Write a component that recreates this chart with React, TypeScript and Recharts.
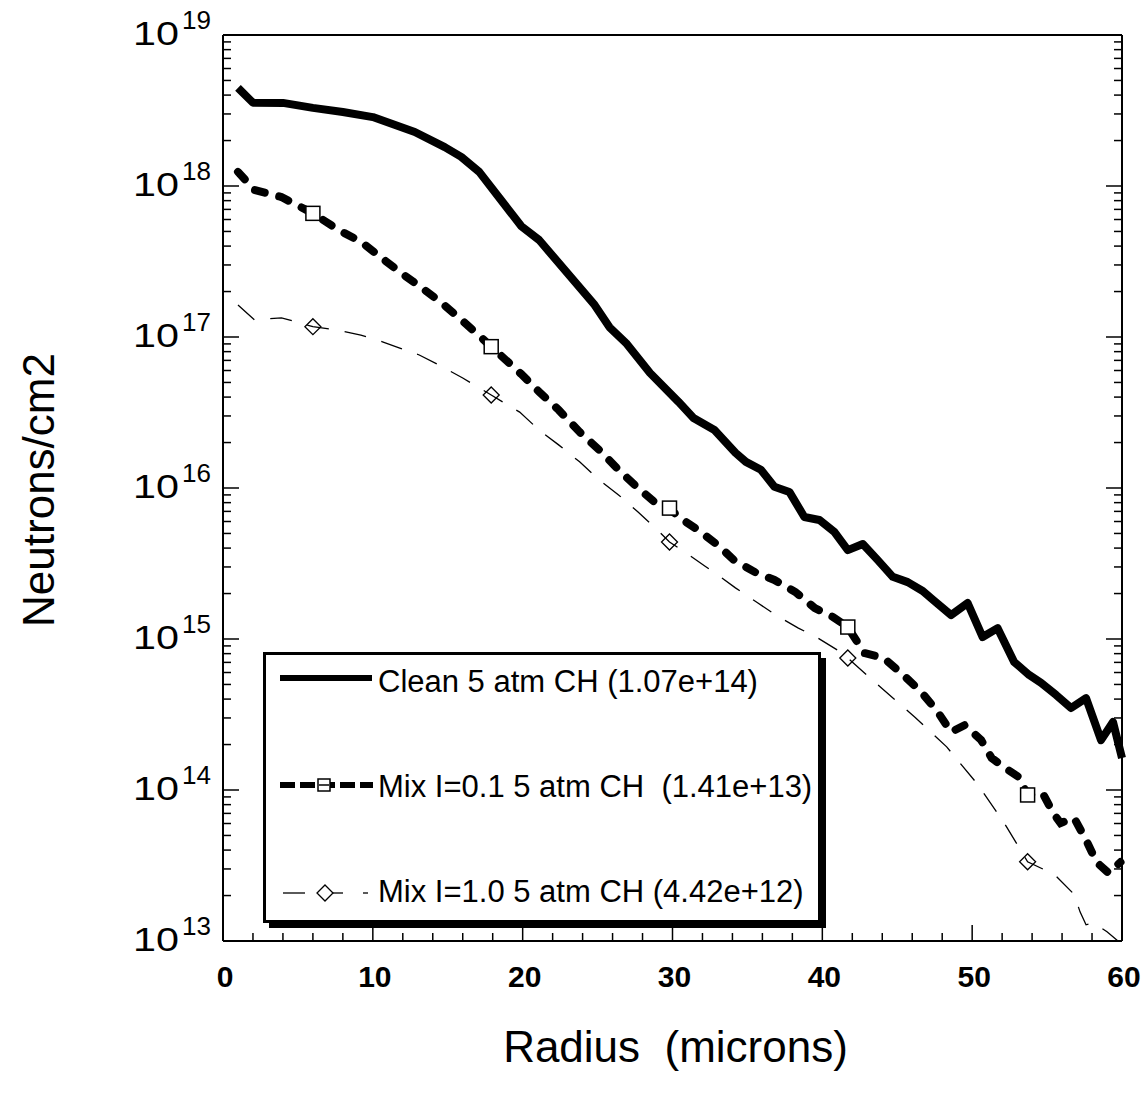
import { LineChart, Line, XAxis, YAxis, Legend, Label } from 'recharts'

// Clean 5 atm CH (1.07e+14)
const radiusClean = [
  1, 2, 4, 6, 8, 10, 12.8, 14.8, 15.9, 17.1, 18.4, 19.9, 21.1, 24.8, 25.8, 26.9, 28.5,
  30.4, 31.4, 32.8, 34.2, 34.9, 35.9, 36.8, 37.8, 38.8, 39.8, 40.8, 41.7, 42.7, 43.7,
  44.7, 45.7, 46.7, 47.4, 48.6, 49.7, 50.7, 51.7, 52.8, 53.8, 54.6, 55.6, 56.6, 57.6,
  58.6, 59.4, 60,
]
const fluxClean = [
  4.46e18, 3.56e18, 3.55e18, 3.29e18, 3.09e18, 2.86e18, 2.28e18, 1.81e18, 1.56e18, 1.24e18,
  8.45e17, 5.43e17, 4.39e17, 1.63e17, 1.16e17, 9.12e16, 5.78e16, 3.72e16, 2.91e16, 2.42e16,
  1.71e16, 1.49e16, 1.32e16, 1.02e16, 9.42e15, 6.43e15, 6.14e15, 5.12e15, 3.88e15, 4.26e15,
  3.33e15, 2.58e15, 2.38e15, 2.08e15, 1.81e15, 1.44e15, 1.73e15, 1.03e15, 1.18e15, 7.05e14,
  5.78e14, 5.12e14, 4.26e14, 3.49e14, 4.06e14, 2.14e14, 2.82e14, 1.63e14,
]

// Mix l=0.1 5 atm CH (1.41e+13)
const radiusMix01 = [
  1, 2.1, 3.9, 6, 7.7, 9.2, 10.6, 11.9, 13.2, 14.6, 15.9, 17.2, 17.9, 19.9, 21.1, 22.4,
  23.8, 25.1, 26.4, 27.6, 28.8, 29.8, 30.4, 31.7, 33.1, 34.1, 35.6, 36.8, 38.2, 39.5,
  40.7, 41.7, 42.8, 44.1, 45.4, 46.6, 47.7, 48.6, 49.5, 50.6, 51.3, 52.1, 53.1, 53.7,
  54.7, 55.4, 55.9, 56.8, 57.6, 58.3, 59.1, 59.9,
]
const fluxMix01 = [
  1.24e18, 9.42e17, 8.45e17, 6.59e17, 5.12e17, 4.28e17, 3.33e17, 2.65e17, 2.14e17, 1.68e17,
  1.3e17, 1.0e17, 8.63e16, 5.69e16, 4.33e16, 3.29e16, 2.35e16, 1.79e16, 1.32e16, 1.02e16,
  8.07e15, 7.36e15, 6.43e15, 5.27e15, 4.13e15, 3.33e15, 2.74e15, 2.46e15, 2.05e15, 1.6e15,
  1.4e15, 1.2e15, 8.07e14, 7.48e14, 5.78e14, 4.46e14, 3.29e14, 2.42e14, 2.69e14, 2.14e14,
  1.63e14, 1.42e14, 1.22e14, 9.27e13, 9.55e13, 7.05e13, 6.04e13, 6.53e13, 4.67e13, 3.33e13,
  2.82e13, 3.33e13,
]

// Mix l=1.0 5 atm CH (4.42e+12)
const radiusMix10 = [
  1, 2.1, 3.9, 6, 7.7, 9.2, 10.6, 11.8, 13.1, 14.4, 16, 17.9, 19.8, 21.1, 22.4, 23.8,
  25.1, 26.4, 27.7, 29, 29.8, 31.2, 32.2, 33.2, 34.2, 35.7, 36.9, 38.4, 39.6, 41, 41.7,
  44.1, 46.2, 48.3, 50.3, 52.1, 53.7, 55.5, 56.8, 57.2, 57.6, 58.1, 59, 60,
]
const fluxMix10 = [
  1.63e17, 1.3e17, 1.34e17, 1.17e17, 1.11e17, 1.03e17, 9.33e16, 8.45e16, 7.6e16, 6.53e16,
  5.35e16, 4.13e16, 3.18e16, 2.42e16, 1.93e16, 1.49e16, 1.13e16, 9.0e15, 6.93e15, 5.27e15,
  4.39e15, 3.55e15, 3.02e15, 2.58e15, 2.18e15, 1.73e15, 1.44e15, 1.18e15, 1.03e15, 8.45e14,
  7.48e14, 4.59e14, 3.02e14, 1.93e14, 1.11e14, 6.14e13, 3.35e13, 2.75e13, 2.04e13, 1.56e13,
  1.28e13, 1.32e13, 1.15e13, 9.5e12,
]

// symbols sit on every 12th micron or so
const markerRadii = [6, 17.9, 29.8, 41.7, 53.7]

const xTickMarks = [
  0, 2, 4, 6, 8, 10, 12, 14, 16, 18, 20, 22, 24, 26, 28, 30, 32, 34, 36, 38, 40, 42, 44,
  46, 48, 50, 52, 54, 56, 58, 60,
]
const decades = [13, 14, 15, 16, 17, 18, 19]
const minorSteps = [2, 3, 4, 5, 6, 7, 8, 9]

const seriesNames = [
  'Clean 5 atm CH (1.07e+14)',
  'Mix I=0.1 5 atm CH  (1.41e+13)',
  'Mix I=1.0 5 atm CH (4.42e+12)',
]

const FONT = '"Liberation Sans", Arial, Helvetica, sans-serif'

const toRows = (radius: number[], flux: number[]) => radius.map((r, i) => ({ r, v: flux[i] }))
const cleanRows = toRows(radiusClean, fluxClean)
const mix01Rows = toRows(radiusMix01, fluxMix01)
const mix10Rows = toRows(radiusMix10, fluxMix10)

const yTicks = decades.flatMap((d) =>
  d < 19 ? [Math.pow(10, d), ...minorSteps.map((m) => m * Math.pow(10, d))] : [Math.pow(10, d)]
)
const isDecade = (v: number) => Math.abs(Math.log10(v) - Math.round(Math.log10(v))) < 1e-6
// svg collapses runs of spaces
const keepSpaces = (s: string) => s.replace(/ {2}/g, ' \u00A0')

function BottomTick({ x, y, payload }: any) {
  const v = payload.value
  const major = v % 10 === 0
  return (
    <g>
      <line x1={x} y1={y} x2={x} y2={y - (major ? 16 : 8)} stroke="#000" strokeWidth={1.5} />
      {major && (
        <text x={x + 2} y={y + 46} textAnchor="middle" fontSize={30} fontWeight="bold" fontFamily={FONT} fill="#000">
          {v}
        </text>
      )}
    </g>
  )
}

function TopTick({ x, y, payload }: any) {
  const major = payload.value % 10 === 0
  return <line x1={x} y1={y} x2={x} y2={y + (major ? 16 : 8)} stroke="#000" strokeWidth={1.5} />
}

function LeftTick({ x, y, payload }: any) {
  const v = payload.value
  const major = isDecade(v)
  return (
    <g>
      <line x1={x} y1={y} x2={x + (major ? 16 : 8)} y2={y} stroke="#000" strokeWidth={1.5} />
      {major && (
        <g fontFamily={FONT} fill="#000">
          <text x={x - 90} y={y + 10} fontSize={34} textLength={46} lengthAdjust="spacingAndGlyphs">
            10
          </text>
          <text x={x - 41} y={y - 6} fontSize={26}>
            {Math.round(Math.log10(v))}
          </text>
        </g>
      )}
    </g>
  )
}

function RightTick({ x, y, payload }: any) {
  const major = isDecade(payload.value)
  return <line x1={x} y1={y} x2={x - (major ? 16 : 8)} y2={y} stroke="#000" strokeWidth={1.5} />
}

function SquareDot({ cx, cy, payload, index }: any) {
  if (!markerRadii.includes(payload.r)) return <g key={`sq-${index}`} />
  return <rect key={`sq-${index}`} x={cx - 7} y={cy - 7} width={14} height={14} fill="#fff" stroke="#000" strokeWidth={1.5} />
}

function DiamondDot({ cx, cy, payload, index }: any) {
  if (!markerRadii.includes(payload.r)) return <g key={`dm-${index}`} />
  return (
    <path
      key={`dm-${index}`}
      d={`M${cx},${cy - 8}L${cx + 8},${cy}L${cx},${cy + 8}L${cx - 8},${cy}Z`}
      fill="none"
      stroke="#000"
      strokeWidth={1.3}
    />
  )
}

function LegendBox({ payload }: any) {
  const rows = (payload || []).map((p: any) => p.value)
  const names = rows.length === 3 ? rows : seriesNames
  return (
    <svg width={570} height={285} style={{ display: 'block' }}>
      <rect x={6} y={6} width={557} height={270} fill="#000" />
      <rect x={1.5} y={1.5} width={555} height={268} fill="#fff" stroke="#000" strokeWidth={3} />
      {/* clean */}
      <line x1={17} y1={26} x2={109} y2={26} stroke="#000" strokeWidth={6} />
      {/* mix 0.1 */}
      <line x1={17} y1={133} x2={110} y2={133} stroke="#000" strokeWidth={6} strokeDasharray="15 5" />
      <rect x={55} y={127} width={12} height={12} fill="#fff" stroke="#000" strokeWidth={1.5} />
      <line x1={56} y1={133} x2={66} y2={133} stroke="#000" strokeWidth={1.5} />
      {/* mix 1.0 */}
      <line x1={20} y1={241} x2={42} y2={241} stroke="#000" strokeWidth={1.3} />
      <line x1={54} y1={241} x2={80} y2={241} stroke="#000" strokeWidth={1.3} />
      <path d="M62,233L70,241L62,249L54,241Z" fill="#fff" stroke="#000" strokeWidth={1.3} />
      <line x1={100} y1={241} x2={105} y2={241} stroke="#000" strokeWidth={1.3} />
      <g fontFamily={FONT} fontSize={31} fill="#000">
        <text x={115} y={40}>{keepSpaces(names[0])}</text>
        <text x={115} y={145}>{keepSpaces(names[1])}</text>
        <text x={115} y={250}>{keepSpaces(names[2])}</text>
      </g>
    </svg>
  )
}

export default function App() {
  return (
    <div style={{ position: 'absolute', left: 0, top: 0, background: '#fff' }}>
      <LineChart width={1146} height={1103} margin={{ top: 0, right: 0, bottom: 0, left: 0 }}>
        <XAxis
          dataKey="r"
          type="number"
          domain={[0, 60]}
          ticks={xTickMarks}
          interval={0}
          height={162}
          tickSize={0}
          tickMargin={0}
          tickLine={false}
          axisLine={{ stroke: '#000', strokeWidth: 2 }}
          tick={(p: any) => <BottomTick {...p} />}
        >
          <Label
            content={({ viewBox }: any) => (
              <text x={viewBox.x + viewBox.width / 2 + 3} y={viewBox.y + 121} textAnchor="middle" fontSize={44} fontFamily={FONT} fill="#000">
                {keepSpaces('Radius  (microns)')}
              </text>
            )}
          />
        </XAxis>
        <XAxis
          xAxisId="top"
          orientation="top"
          dataKey="r"
          type="number"
          domain={[0, 60]}
          ticks={xTickMarks}
          interval={0}
          height={35}
          tickSize={0}
          tickMargin={0}
          tickLine={false}
          axisLine={{ stroke: '#000', strokeWidth: 2 }}
          tick={(p: any) => <TopTick {...p} />}
        />
        <YAxis
          scale="log"
          type="number"
          domain={[1e13, 1e19]}
          allowDataOverflow
          ticks={yTicks}
          interval={0}
          width={223}
          tickSize={0}
          tickMargin={0}
          tickLine={false}
          axisLine={{ stroke: '#000', strokeWidth: 2 }}
          tick={(p: any) => <LeftTick {...p} />}
        >
          <Label
            content={({ viewBox }: any) => {
              const cx = viewBox.x + 38
              const cy = viewBox.y + viewBox.height / 2 + 2
              return (
                <text x={cx} y={cy} transform={`rotate(-90 ${cx} ${cy})`} textAnchor="middle" dominantBaseline="central" fontSize={44} fontFamily={FONT} fill="#000">
                  Neutrons/cm2
                </text>
              )
            }}
          />
        </YAxis>
        <YAxis
          yAxisId="right"
          orientation="right"
          scale="log"
          type="number"
          domain={[1e13, 1e19]}
          allowDataOverflow
          ticks={yTicks}
          interval={0}
          width={24}
          tickSize={0}
          tickMargin={0}
          tickLine={false}
          axisLine={{ stroke: '#000', strokeWidth: 2 }}
          tick={(p: any) => <RightTick {...p} />}
        />
        <Line
          data={cleanRows}
          dataKey="v"
          name={seriesNames[0]}
          type="linear"
          stroke="#000"
          strokeWidth={8}
          strokeLinejoin="round"
          dot={false}
          activeDot={false}
          isAnimationActive={false}
        />
        <Line
          data={mix01Rows}
          dataKey="v"
          name={seriesNames[1]}
          type="linear"
          stroke="#000"
          strokeWidth={8}
          strokeDasharray="10 15"
          strokeLinecap="round"
          dot={(p: any) => <SquareDot {...p} />}
          activeDot={false}
          isAnimationActive={false}
        />
        <Line
          data={mix10Rows}
          dataKey="v"
          name={seriesNames[2]}
          type="linear"
          stroke="#000"
          strokeWidth={1.3}
          strokeDasharray="22 16"
          dot={(p: any) => <DiamondDot {...p} />}
          activeDot={false}
          isAnimationActive={false}
        />
        <Legend
          layout="vertical"
          align="center"
          verticalAlign="middle"
          wrapperStyle={{ left: 263, top: 652, width: 570, height: 285 }}
          content={(p: any) => <LegendBox {...p} />}
        />
      </LineChart>
    </div>
  )
}
